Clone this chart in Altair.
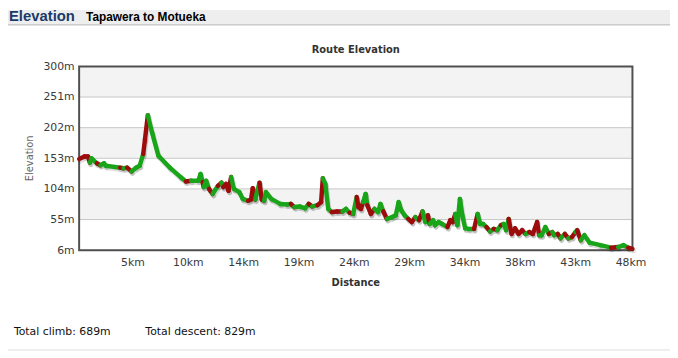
import altair as alt
import pandas as pd

# ---- data ----
dist_km = [0, 0.46, 0.77, 0.93, 1.08, 1.54, 1.85, 2.16, 2.32, 3.55,
           3.86, 4.17, 4.54, 4.94, 5.25, 5.56, 5.71, 5.96, 6.33, 6.88,
           7.87, 8.80, 9.26, 9.72, 10.34, 10.53, 10.71, 10.80, 11.02, 11.27,
           11.58, 12.04, 12.35, 12.50, 12.75, 12.96, 13.18, 13.43, 13.89, 14.20,
           14.66, 14.91, 15.06, 15.28, 15.43, 15.65, 15.84, 16.05, 16.21, 16.67,
           17.44, 18.06, 18.37, 18.67, 19.14, 19.60, 19.91, 20.22, 20.68, 20.99,
           21.14, 21.36, 21.61, 21.92, 22.38, 22.84, 23.15, 23.46, 23.77, 24.08,
           24.23, 24.45, 24.63, 24.85, 25.00, 25.31, 25.62, 25.93, 26.14, 26.39,
           26.70, 27.16, 27.47, 27.72, 27.94, 28.24, 28.55, 28.86, 29.17, 29.48,
           29.79, 30.03, 30.25, 30.41, 30.71, 30.87, 31.18, 31.49, 31.95, 32.20,
           32.41, 32.63, 32.81, 33.03, 33.24, 33.49, 33.80, 34.26, 34.57, 34.79,
           35.04, 35.34, 35.65, 35.96, 36.27, 36.58, 36.83, 37.04, 37.26, 37.51,
           37.81, 38.12, 38.43, 38.74, 39.05, 39.36, 39.73, 39.91, 40.13, 40.44,
           40.75, 41.05, 41.21, 41.52, 41.76, 42.13, 42.44, 42.75, 43.06, 43.21,
           43.52, 43.83, 44.29, 45.22, 46.14, 46.76, 47.23, 47.63, 48.0]

elev_m = [152, 156, 156, 146, 153, 145, 142, 145, 141, 138,
          137, 138, 132, 138, 141, 160, 183, 222, 194, 157,
          138, 123, 116, 117, 117, 128, 115, 107, 117, 104,
          96, 109, 114, 107, 112, 101, 123, 104, 99, 88,
          85, 87, 105, 87, 99, 114, 87, 85, 99, 88,
          80, 79, 80, 75, 76, 73, 80, 76, 78, 83,
          121, 112, 72, 67, 68, 68, 72, 66, 64, 91,
          75, 72, 83, 96, 78, 64, 72, 67, 80, 68,
          56, 59, 62, 83, 70, 62, 56, 51, 59, 54,
          68, 51, 62, 48, 54, 46, 51, 48, 43, 54,
          51, 64, 46, 88, 62, 41, 40, 40, 64, 48,
          48, 43, 36, 40, 38, 46, 48, 38, 56, 32,
          41, 32, 38, 32, 35, 32, 51, 30, 30, 43,
          32, 35, 30, 32, 25, 32, 25, 27, 35, 38,
          22, 30, 18, 14, 10, 11, 14, 10, 8]

# colour of each segment (g = green, r = red), segment i joins point i and i+1
seg_colors = ("rrrggrgggr" "grgggrrggg" "ggrgggrggr" "grgrrrgggg" "rrrggrrggg"
              "ggrgggrgrr" "gggrrggrgr" "rrggrrgggr" "ggggggrrgr" "ggrgggggrr"
              "rggggggrgg" "grgrgrggrr" "rrrgrrrggg" "rggrgrgrgr" "ggggrggr")

x_ticks = [4.8, 9.6, 14.4, 19.2, 24.0, 28.8, 33.6, 38.4, 43.2, 48.0]
y_ticks = [6, 55, 104, 153, 202, 251, 300]
band_lo = [251, 153, 55]
band_hi = [300, 202, 104]

header_title = "Elevation"
route_name = "Tapawera to Motueka"
chart_title = "Route Elevation"
x_title = "Distance"
y_title = "Elevation"
climb_text = "Total climb: 689m"
descent_text = "Total descent: 829m"

GREEN = "#19a519"
RED = "#9c0c0c"
FONT = "DejaVu Sans"

n = min(len(dist_km), len(elev_m))
m = min(n - 1, len(seg_colors))
segs = pd.DataFrame({
    "x": dist_km[:m], "y": elev_m[:m],
    "x2": dist_km[1:m + 1], "y2": elev_m[1:m + 1],
    "c": list(seg_colors[:m]),
})

W, H = 560, 186
xs = alt.Scale(domain=[0, 48], nice=False, zero=False)
ys = alt.Scale(domain=[6, 300], nice=False, zero=False)

X_AXIS = alt.Axis(values=x_ticks, labelExpr="round(datum.value) + 'km'",
                  grid=False, domain=False, ticks=False, labelPadding=7,
                  labelOffset=-2, labelFlush=False, labelOverlap=False,
                  labelFontSize=11, labelColor="#3a3a3a", labelFont=FONT)
Y_AXIS = alt.Axis(values=y_ticks, labelExpr="datum.value + 'm'",
                  grid=False, domain=False, ticks=False, labelPadding=5,
                  labelFlush=False, labelOverlap=False,
                  labelFontSize=11, labelColor="#3a3a3a", labelFont=FONT)

one = pd.DataFrame({"k": [0]})

# header bar
header_bg = alt.Chart(one).mark_rect(fill="#eeeeee").encode(
    x=alt.value(-72), x2=alt.value(598), y=alt.value(-57), y2=alt.value(-42))
header_line = alt.Chart(one).mark_rule(color="#b5b5b5", strokeWidth=1).encode(
    x=alt.value(-72), x2=alt.value(598), y=alt.value(-42))
bottom_line = alt.Chart(one).mark_rule(color="#dddddd", strokeWidth=1).encode(
    x=alt.value(-72), x2=alt.value(598), y=alt.value(287))

def text(t, x, y, size, color="#000", weight="normal", align="left",
         baseline="alphabetic", font=FONT, angle=0):
    kw = dict(fontSize=size, color=color, fontWeight=weight, align=align,
              baseline=baseline, font=font)
    if angle:
        kw["angle"] = angle
    return alt.Chart(pd.DataFrame({"t": [t]})).mark_text(**kw).encode(
        text="t:N", x=alt.value(x), y=alt.value(y))

t_head = text(header_title, -71, -46, 15, color="#1b3a68", weight="bold",
              font="Liberation Sans")
t_route = text(route_name, 7, -46, 12, color="#000", weight="bold",
               font="Liberation Sans")
t_title = text(chart_title, 280, -14, 10, color="#333", weight="bold",
               align="center")
t_xt = text(x_title, 280, 222, 10, color="#333", weight="bold", align="center")
t_yt = text(y_title, -50, 93, 10, color="#666", align="center",
            baseline="middle", angle=270)
t_climb = text(climb_text, -66, 272, 11, color="#111")
t_desc = text(descent_text, 67, 272, 11, color="#111")

bands = alt.Chart(pd.DataFrame({"lo": band_lo, "hi": band_hi})).mark_rect(
    fill="#f3f3f3").encode(
    x=alt.value(0), x2=alt.value(W),
    y=alt.Y("lo:Q", scale=ys, axis=Y_AXIS, title=None), y2="hi:Q")

grid = alt.Chart(pd.DataFrame({"g": y_ticks})).mark_rule(
    color="#c6c6c6", strokeWidth=1).encode(
    x=alt.value(0), x2=alt.value(W),
    y=alt.Y("g:Q", scale=ys, axis=Y_AXIS, title=None))

frame = alt.Chart(one).mark_rect(
    filled=False, stroke="#505050", strokeWidth=2).encode(
    x=alt.value(0), x2=alt.value(W), y=alt.value(0), y2=alt.value(H))

shadow = alt.Chart(segs).mark_rule(
    color="#000", opacity=0.12, strokeWidth=5, strokeCap="round",
    xOffset=1, yOffset=2, x2Offset=1, y2Offset=2).encode(
    x=alt.X("x:Q", scale=xs, axis=X_AXIS, title=None),
    y=alt.Y("y:Q", scale=ys, axis=Y_AXIS, title=None),
    x2="x2:Q", y2="y2:Q")

line = alt.Chart(segs).mark_rule(strokeWidth=4.5, strokeCap="round").encode(
    x=alt.X("x:Q", scale=xs, axis=X_AXIS, title=None),
    y=alt.Y("y:Q", scale=ys, axis=Y_AXIS, title=None),
    x2="x2:Q", y2="y2:Q",
    color=alt.Color("c:N", scale=alt.Scale(domain=["g", "r"], range=[GREEN, RED]),
                    legend=None),
)

chart = alt.layer(
    header_bg, header_line, bottom_line, bands, grid, frame, shadow, line,
    t_head, t_route, t_title, t_xt, t_yt, t_climb, t_desc,
).properties(
    width=W, height=H,
    padding={"left": 72, "top": 57, "right": 38, "bottom": 107},
    autosize=alt.AutoSizeParams(type="none"),
    background="#ffffff",
).configure_view(
    strokeWidth=0,
)

chart.save("out.html", embed_options={"renderer": "svg", "actions": False})
